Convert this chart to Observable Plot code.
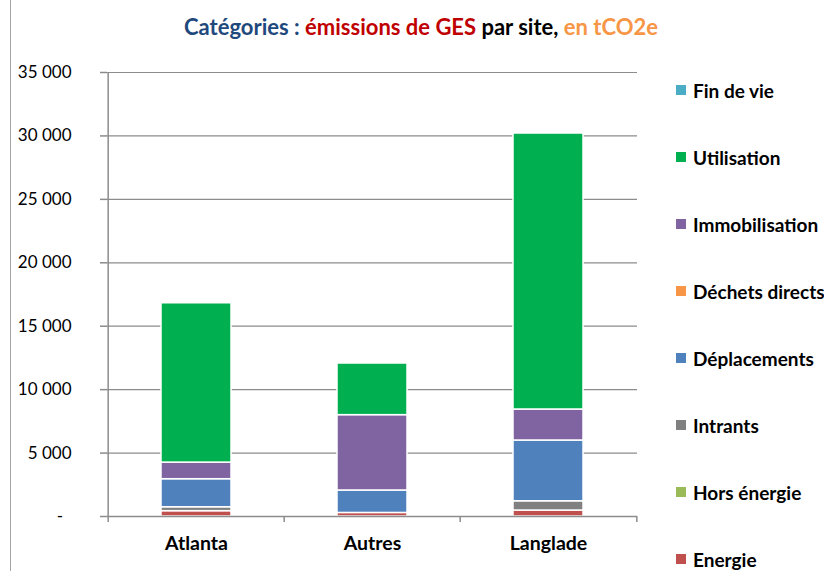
<!DOCTYPE html>
<html><head><meta charset="utf-8">
<script src="https://cdn.jsdelivr.net/npm/d3@7"></script>
<script src="https://cdn.jsdelivr.net/npm/@observablehq/plot@0.6"></script>
<style>
body{margin:0;background:#fff;font-family:Lato,"Open Sans",sans-serif;}
#wrap{position:relative;width:824px;height:571px;overflow:hidden;}
#frame{position:absolute;left:10px;top:0;width:0;height:571px;border-left:1.5px solid #a6a6a6;}
#title{position:absolute;left:0;width:842px;top:13px;text-align:center;font-weight:bold;font-size:22px;white-space:nowrap;}
#legend{position:absolute;left:676px;top:79px;}
.li{position:absolute;left:0;height:22px;display:flex;align-items:center;font-weight:bold;font-size:19px;white-space:nowrap;color:#000;}
.sw{width:10px;height:10px;margin-right:7px;}
</style></head><body>
<div id="wrap"><div id="frame"></div><div id="title"></div><div id="chart"></div><div id="legend"></div></div>
<script>
const sites = ["Atlanta", "Autres", "Langlade"];
const categories = ["Energie", "Hors énergie", "Intrants", "Déplacements", "Déchets directs", "Immobilisation", "Utilisation", "Fin de vie"];
const colors = ["#C0504D", "#9BBB59", "#808080", "#4F81BD", "#F79646", "#8064A2", "#00B050", "#4BACC6"];
// values per category, in site order
const energie        = [420, 280, 470];
const horsEnergie    = [0, 0, 0];
const intrants       = [310, 0, 730];
const deplacements   = [2210, 1770, 4790];
const dechetsDirects = [0, 0, 0];
const immobilisation = [1310, 5940, 2445];
const utilisation    = [12560, 4070, 21755];
const finDeVie       = [0, 0, 0];
const yTicks = [0, 5000, 10000, 15000, 20000, 25000, 30000, 35000];

const series = [energie, horsEnergie, intrants, deplacements, dechetsDirects, immobilisation, utilisation, finDeVie];
const data = [];
categories.forEach((c, i) => sites.forEach((s, j) => data.push({site: s, cat: c, value: series[i][j]})));

const W = 824, H = 571, mL = 107, mR = 187, mT = 72, mB = 55;
const halfStep = (W - mL - mR) / sites.length / 2;
const fmt = v => v === 0 ? "-\u2002" : d3.format(",")(v).replace(/,/g, " ");

const chart = Plot.plot({
  width: W, height: H, marginLeft: mL, marginRight: mR, marginTop: mT, marginBottom: mB,
  style: {fontFamily: "Lato, 'Open Sans', sans-serif", background: "transparent"},
  x: {domain: sites, paddingInner: 0.6, paddingOuter: 0.3, label: null},
  y: {domain: [0, 35000], label: null},
  color: {domain: categories, range: colors},
  marks: [
    Plot.gridY(yTicks, {stroke: "#8c8c8c", strokeOpacity: 1, strokeWidth: 1.2}),
    Plot.barY(data, {x: "site", y: "value", fill: "cat", order: categories, stroke: "white", strokeWidth: 1.5}),
    Plot.ruleY([0], {stroke: "#8c8c8c", strokeWidth: 1.5}),
    Plot.ruleX([0], {stroke: "#8c8c8c", strokeWidth: 1.5, x: () => sites[0], dx: -halfStep, y1: 0, y2: 35000}),
    Plot.ruleX(sites, {x: d => d, dx: -halfStep, y1: 0, y2: 0, insetBottom: -6, stroke: "#8c8c8c", strokeWidth: 1.5}),
    Plot.ruleX([sites[sites.length - 1]], {x: d => d, dx: halfStep, y1: 0, y2: 0, insetBottom: -6, stroke: "#8c8c8c", strokeWidth: 1.5}),
    Plot.axisY(yTicks, {tickSize: 7, tickPadding: 29, tickFormat: fmt, fontSize: 17, fill: "#000", stroke: "#8c8c8c", strokeWidth: 1.5, strokeOpacity: 1}),
    Plot.axisX({tickSize: 0, tickPadding: 20, fontSize: 19.5, fontWeight: "bold", fill: "#000"})
  ]
});
document.getElementById("chart").appendChild(chart);

document.getElementById("title").innerHTML =
  '<span style="color:#1F497D">Catégories : </span><span style="color:#C00000">émissions de GES</span><span style="color:#000"> par site, </span><span style="color:#F79646">en tCO2e</span>';

const legend = document.getElementById("legend");
categories.slice().reverse().forEach((c, i) => {
  const col = colors[categories.indexOf(c)];
  const el = document.createElement("div");
  el.className = "li";
  el.style.top = (i * 67) + "px";
  el.innerHTML = `<span class="sw" style="background:${col}"></span><span>${c}</span>`;
  legend.appendChild(el);
});
</script>
</body></html>
